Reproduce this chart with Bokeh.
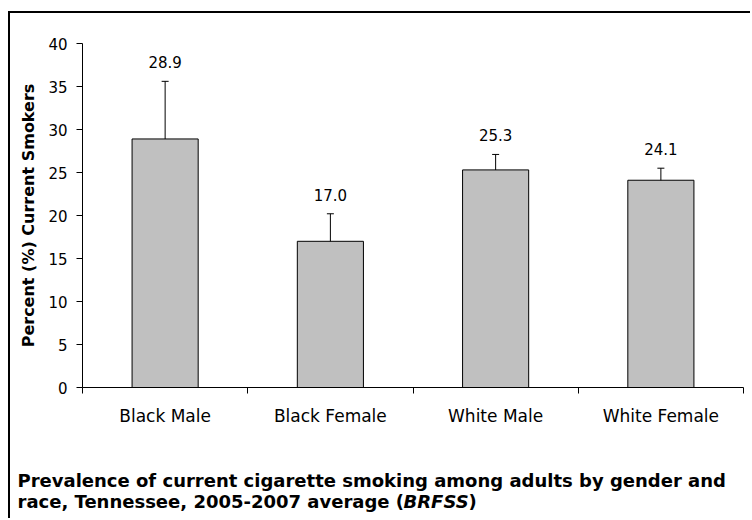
from bokeh.plotting import figure
from bokeh.models import (ColumnDataSource, Whisker, LabelSet, Label,
                          Range1d, FixedTicker, TeeHead)
from bokeh.core.properties import value
from bokeh.embed import file_html
from bokeh.resources import INLINE

categories = ["Black Male", "Black Female", "White Male", "White Female"]
prevalence = [28.9, 17.0, 25.3, 24.1]
ci_lower = [22.2, 13.8, 23.5, 22.7]
ci_upper = [35.6, 20.2, 27.1, 25.5]
labels = ["28.9", "17.0", "25.3", "24.1"]
y_ticks = [0, 5, 10, 15, 20, 25, 30, 35, 40]
caption_line1 = "Prevalence of current cigarette smoking among adults by gender and"
caption_line2 = "race, Tennessee, 2005-2007 average ("
caption_source = "BRFSS"
caption_close = ")"

FONT = "DejaVu Sans"

n = len(categories)
centers = [i + 0.5 for i in range(n)]
edges = list(range(n + 1))

# layout geometry (pixels): canvas 742 x 507, axes placed inside it
W, H = 742, 507
AX_LEFT, AX_RIGHT = 72, 733      # x-axis span in canvas px
AX_TOP, AX_BOTTOM = 30, 374      # y-axis span in canvas px
Y_MAX = 40
px_x = (AX_RIGHT - AX_LEFT) / n
px_y = (AX_BOTTOM - AX_TOP) / Y_MAX
x_start = -AX_LEFT / px_x
x_end = n + (W - AX_RIGHT) / px_x
y_start = -(H - AX_BOTTOM) / px_y
y_end = Y_MAX + AX_TOP / px_y

src = ColumnDataSource(dict(x=centers, val=prevalence, lo=ci_lower,
                            hi=ci_upper, lab=labels))

p = figure(x_range=Range1d(x_start, x_end), y_range=Range1d(y_start, y_end),
           width=W, height=H, output_backend="svg", toolbar_location=None,
           min_border_left=0, min_border_right=0, min_border_top=0,
           min_border_bottom=0)
p.styles = {"border-top": "2px solid #000", "border-left": "2px solid #000",
            "margin-top": "11px", "margin-left": "8px"}
p.outline_line_color = None
p.grid.visible = False
p.background_fill_color = "white"
p.border_fill_color = "white"

p.vbar(x="x", top="val", width=0.4, source=src, fill_color="#C0C0C0",
       line_color="black", line_width=1)

w = Whisker(base="x", lower="lo", upper="hi", source=src, line_color="black",
            line_width=1,
            upper_head=TeeHead(size=7, line_color="black", line_width=1),
            lower_head=TeeHead(size=7, line_color="black", line_width=1))
p.add_layout(w)

ls = LabelSet(x="x", y="hi", text="lab", source=src, text_align="center",
              text_baseline="bottom", y_offset=13, text_font=value(FONT),
              text_font_size=value("15px"), text_color="black")
p.add_layout(ls)

# y axis
ya = p.yaxis[0]
ya.fixed_location = 0
ya.bounds = (0, Y_MAX)
ya.ticker = FixedTicker(ticks=y_ticks)
ya.axis_label = "Percent (%) Current Smokers"
ya.axis_label_text_font = FONT
ya.axis_label_text_font_style = "bold"
ya.axis_label_text_font_size = "16px"
ya.axis_label_text_color = "black"
ya.axis_label_standoff = 7
ya.major_label_text_font = FONT
ya.major_label_text_font_size = "15px"
ya.major_label_text_color = "black"
ya.major_tick_out = 6
ya.major_tick_in = 0
ya.minor_tick_line_color = None
ya.major_label_standoff = 9
ya.axis_line_color = "black"
ya.major_tick_line_color = "black"

# x axis: labels at category centres, tick marks at category edges
xa = p.xaxis[0]
xa.fixed_location = 0
xa.bounds = (0, n)
xa.ticker = FixedTicker(ticks=centers, minor_ticks=edges)
xa.major_label_overrides = {c: name for c, name in zip(centers, categories)}
xa.major_tick_line_color = None
xa.major_tick_out = 0
xa.major_tick_in = 0
xa.minor_tick_line_color = "black"
xa.minor_tick_out = 6
xa.minor_tick_in = 0
xa.axis_line_color = "black"
xa.major_label_text_font = FONT
xa.major_label_text_font_size = "17px"
xa.major_label_text_color = "black"
xa.major_label_standoff = 12

# caption (screen units, measured from the plot area's bottom-left)
TF = dict(x_units="screen", y_units="screen", text_font=FONT,
          text_font_size="18px", text_color="black", text_baseline="alphabetic")
t1 = Label(x=7, y=40, text_font_style="bold", text=caption_line1, **TF)
t2 = Label(x=7, y=19, text_font_style="bold", text=caption_line2, **TF)
t3 = Label(x=393, y=19, text_font_style="bold italic", text=caption_source, **TF)
t4 = Label(x=458, y=19, text_font_style="bold", text=caption_close, **TF)
for t in (t1, t2, t3, t4):
    p.add_layout(t)

open("out.html", "w").write(file_html(p, INLINE))
